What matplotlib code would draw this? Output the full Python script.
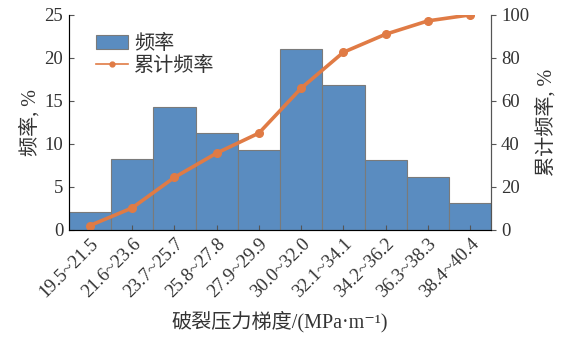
import matplotlib
matplotlib.use("Agg")
import matplotlib.pyplot as plt
from matplotlib.lines import Line2D
import numpy as np

plt.rcParams['font.family'] = ['Liberation Serif', 'Noto Sans CJK SC', 'DejaVu Serif']
plt.rcParams['text.color'] = '#333333'
plt.rcParams['axes.labelcolor'] = '#333333'
plt.rcParams['xtick.labelcolor'] = '#333333'
plt.rcParams['ytick.labelcolor'] = '#333333'

# Fracture pressure gradient bins and their frequencies
bins = ["19.5~21.5", "21.6~23.6", "23.7~25.7", "25.8~27.8", "27.9~29.9",
        "30.0~32.0", "32.1~34.1", "34.2~36.2", "36.3~38.3", "38.4~40.4"]
freq = [2.1, 8.2, 14.3, 11.3, 9.3, 21.0, 16.9, 8.1, 6.1, 3.1]
cum_freq = [2.0, 10.2, 24.4, 35.7, 45.0, 65.9, 82.6, 91.0, 97.2, 100.0]

bar_color = '#5a8cc0'
line_color = '#e07b45'
axis_color = '#555555'

fig = plt.figure(figsize=(5.64, 3.38), dpi=100)
ax = fig.add_axes([0.122, 0.32, 0.749, 0.636])
x = np.arange(len(bins))

bars = ax.bar(x, freq, width=1.0, color=bar_color, edgecolor='#7a7a7a',
              linewidth=0.8, label='频率')
ax.set_xlim(-0.5, len(bins) - 0.5)
ax.set_ylim(0, 25)
ax.set_yticks([0, 5, 10, 15, 20, 25])
ax.set_xticks(x)
ax.set_xticklabels(bins, rotation=45, ha='right', rotation_mode='anchor')
ax.tick_params(axis='both', direction='in', labelsize=13.5, color=axis_color)
ax.tick_params(axis='x', pad=4)
ax.tick_params(axis='y', pad=4)
ax.set_ylabel('频率, %', fontsize=14.5, labelpad=3)
ax.set_xlabel('破裂压力梯度/(MPa·m⁻¹)', fontsize=14.5, labelpad=7)
ax.spines['top'].set_visible(False)
for s in ['left', 'bottom', 'right']:
    ax.spines[s].set_color(axis_color)

ax2 = ax.twinx()
ax2.plot(x, cum_freq, color=line_color, linewidth=2.6, marker='o',
         markersize=5.5)
ax2.set_ylim(0, 100)
ax2.set_yticks([0, 20, 40, 60, 80, 100])
ax2.tick_params(axis='y', direction='out', labelsize=13.5, color=axis_color)
ax2.set_ylabel('累计频率, %', fontsize=14.5, labelpad=5)
ax2.spines['top'].set_visible(False)
ax2.spines['right'].set_color(axis_color)

# legend keeps a thin line with a small dot for the cumulative series
cum_handle = Line2D([], [], color=line_color, linewidth=1.2, marker='o',
                    markersize=3.5)
ax.legend([bars, cum_handle], ['频率', '累计频率'], loc='upper left',
          bbox_to_anchor=(0.045, 0.945), frameon=False, fontsize=14.5,
          handlelength=1.6, handleheight=0.7, borderaxespad=0,
          labelspacing=0.15, handletextpad=0.3)

fig.savefig('out.png', dpi=100)
